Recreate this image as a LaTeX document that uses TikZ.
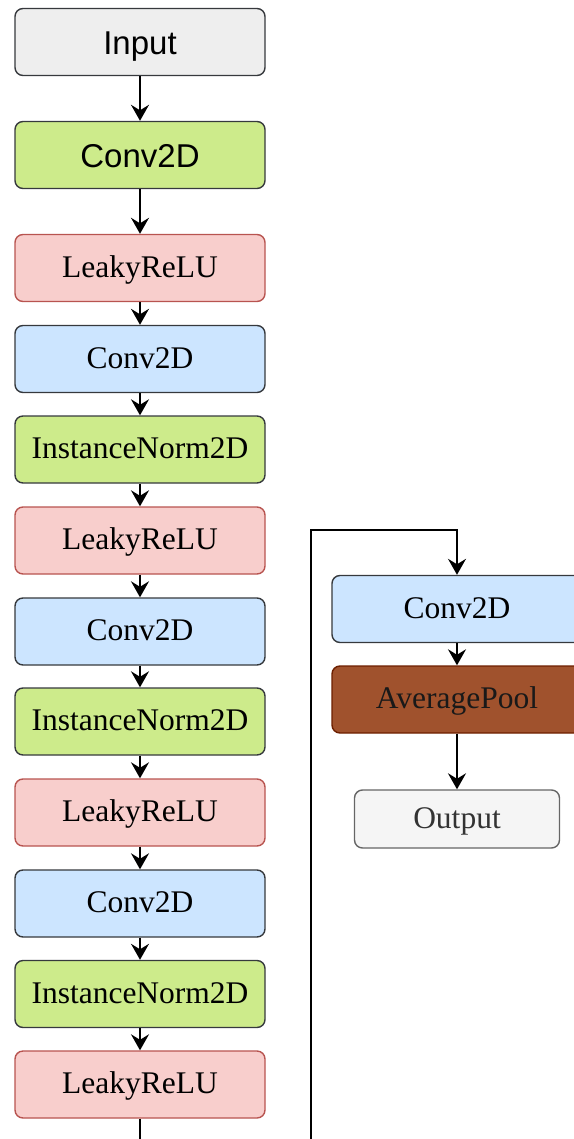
\documentclass[tikz,border=0pt]{standalone}
\usepackage{fontspec}
\setmainfont{Liberation Serif}
\newfontfamily\labelsans{Liberation Sans}
\usetikzlibrary{arrows.meta}

\definecolor{inputfill}{HTML}{EEEEEE}
\definecolor{darkedge}{HTML}{36393D}
\definecolor{greenfill}{HTML}{CDEB8B}
\definecolor{pinkfill}{HTML}{F8CECC}
\definecolor{pinkedge}{HTML}{B85450}
\definecolor{bluefill}{HTML}{CCE5FF}
\definecolor{brownfill}{HTML}{A0522D}
\definecolor{brownedge}{HTML}{6D1F00}
\definecolor{outfill}{HTML}{F5F5F5}
\definecolor{outedge}{HTML}{666666}
\definecolor{outtext}{HTML}{333333}

\tikzset{
  layer/.style={rounded corners=8pt, line width=1.4pt, minimum width=250pt,
    minimum height=67pt, inner sep=0pt, text=black,
    text height=22pt, text depth=4pt,
    font=\fontsize{31.5}{36}\selectfont},
  sanslabel/.style={font=\labelsans\fontsize{33}{38}\selectfont,
    text height=28pt, text depth=2pt},
  inbox/.style={layer, fill=inputfill, draw=darkedge, sanslabel},
  convfirst/.style={layer, fill=greenfill, draw=darkedge, sanslabel},
  relubox/.style={layer, fill=pinkfill, draw=pinkedge},
  convbox/.style={layer, fill=bluefill, draw=darkedge},
  normbox/.style={layer, fill=greenfill, draw=darkedge},
  poolbox/.style={layer, fill=brownfill, draw=brownedge, text={black!90}},
  outbox/.style={layer, fill=outfill, draw=outedge, text=outtext,
    minimum width=205pt, minimum height=58pt},
  flow/.style={line width=1.8pt, -{Stealth[length=16pt, width=18pt, inset=5.5pt]}},
  wire/.style={line width=1.8pt}
}

\begin{document}
\begin{tikzpicture}[x=1pt, y=1pt]
\useasboundingbox (0,0) rectangle (573,-1139);

% main column
\node[inbox]    (in)  at (140,-42)     {Input};
\node[convfirst](c0)  at (140,-155)    {Conv2D};
\node[relubox]  (r1)  at (140,-268)    {LeakyReLU};
\node[convbox]  (c1)  at (140,-359)    {Conv2D};
\node[normbox]  (n1)  at (140,-449.5)  {InstanceNorm2D};
\node[relubox]  (r2)  at (140,-540.5)  {LeakyReLU};
\node[convbox]  (c2)  at (140,-631.5)  {Conv2D};
\node[normbox]  (n2)  at (140,-721.5)  {InstanceNorm2D};
\node[relubox]  (r3)  at (140,-812.5)  {LeakyReLU};
\node[convbox]  (c3)  at (140,-903.5)  {Conv2D};
\node[normbox]  (n3)  at (140,-994)    {InstanceNorm2D};
\node[relubox]  (r4)  at (140,-1084.5) {LeakyReLU};

% output column
\node[convbox]  (c4)  at (457,-609)    {Conv2D};
\node[poolbox]  (ap)  at (457,-699.5)  {AveragePool};
\node[outbox]   (out) at (457,-819)    {Output};

% continuation of the chain below the frame
\coordinate (down) at (140,-1139);
\coordinate (up)   at (311,-1139);
\coordinate (turn) at (311,-530);

\foreach \a/\b in {in/c0, c0/r1, r1/c1, c1/n1, n1/r2, r2/c2, c2/n2, n2/r3,
                   r3/c3, c3/n3, n3/r4, c4/ap, ap/out}
  \draw[flow] (\a.south) -- (\b.north);

\draw[wire] (r4.south) -- (down);
\draw[flow] (up) -- (turn) -| (c4.north);
\end{tikzpicture}
\end{document}
